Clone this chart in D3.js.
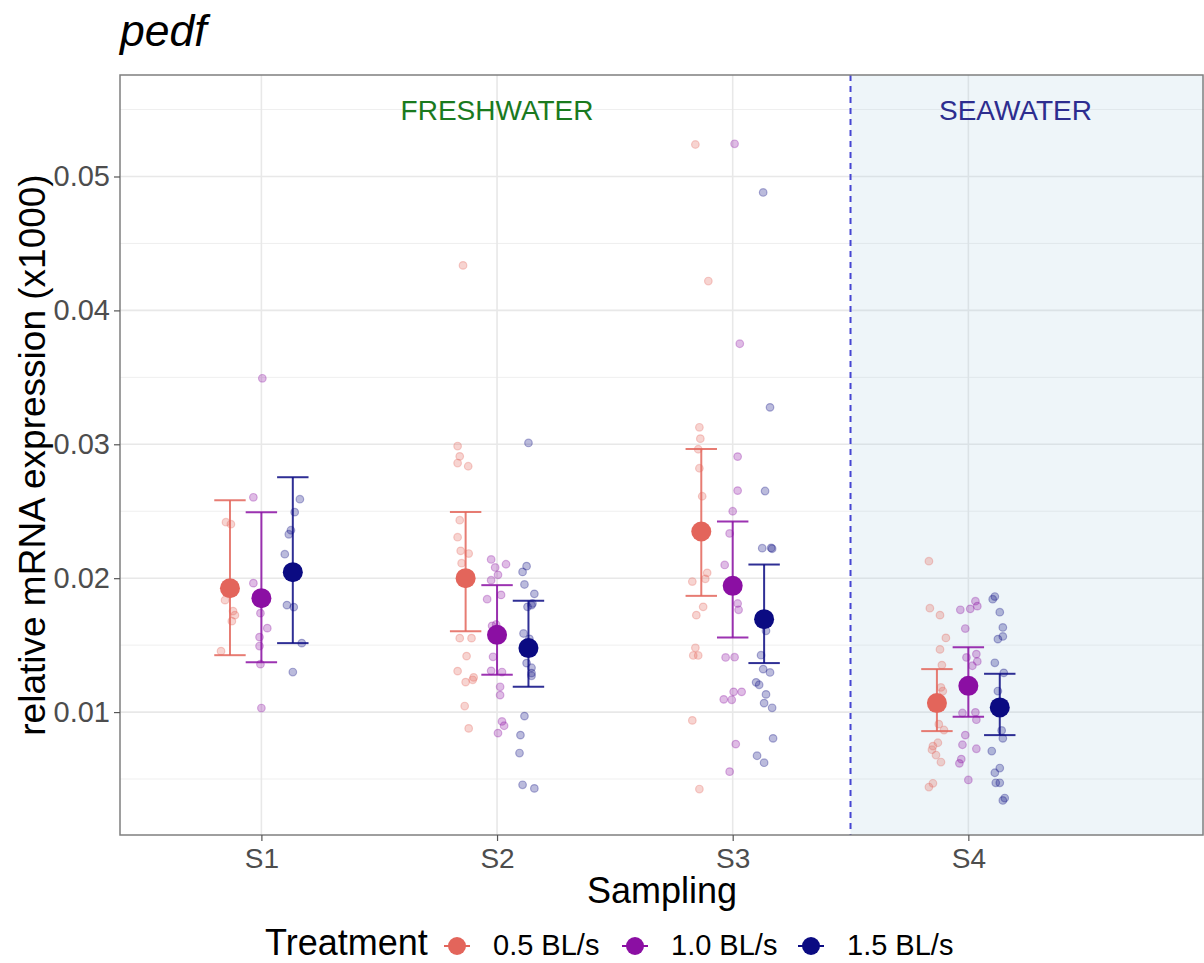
<!DOCTYPE html>
<html>
<head>
<meta charset="utf-8">
<script src="https://cdn.jsdelivr.net/npm/d3@7"></script>
<style>
  html, body { margin: 0; padding: 0; background: #fff; }
  svg { display: block; font-family: "Liberation Sans", Arial, Helvetica, sans-serif; }
</style>
</head>
<body>
<svg id="chart" width="1204" height="963"></svg>
<script>
// ---- data -------------------------------------------------------------
const samplings = ["S1", "S2", "S3", "S4"];
const treatments = ["0.5 BL/s", "1.0 BL/s", "1.5 BL/s"];
const yTicks = [0.01, 0.02, 0.03, 0.04, 0.05];

// group means and 95% CI per sampling (S1..S4)
const meanSlow = [0.01925, 0.0200, 0.02349, 0.01067];
const lowSlow  = [0.01425, 0.01604, 0.01868, 0.00858];
const highSlow = [0.02582, 0.02495, 0.02965, 0.01321];

const meanMid = [0.01851, 0.01577, 0.01943, 0.01196];
const lowMid  = [0.01373, 0.01279, 0.01557, 0.00965];
const highMid = [0.02493, 0.01948, 0.02423, 0.01485];

const meanFast = [0.02045, 0.01478, 0.01694, 0.01035];
const lowFast  = [0.01515, 0.01189, 0.01366, 0.00828];
const highFast = [0.02754, 0.01831, 0.02102, 0.01286];

// individual fish: [expression, jitter along x in sampling units]
const pointsSlow = [
  [[0.02418,-0.017],[0.02403,0.004],[0.01836,-0.021],[0.01754,0.013],[0.01724,0.021],[0.01679,0.008],[0.01455,-0.038]],
  [[0.04336,-0.011],[0.02987,-0.034],[0.0291,-0.025],[0.0286,-0.034],[0.02836,0.011],[0.02433,-0.025],[0.02306,-0.034],[0.02204,-0.021],[0.02184,0.013],[0.02112,-0.017],[0.01552,-0.025],[0.01552,0.025],[0.01418,0.004],[0.01306,-0.034],[0.01224,0],[0.01259,0.034],[0.01241,0.030],[0.01045,-0.004],[0.00878,0.013]],
  [[0.05239,-0.025],[0.04219,0.030],[0.03127,-0.008],[0.03042,-0.004],[0.02963,-0.013],[0.02821,-0.008],[0.02612,0.004],[0.0204,0.025],[0.01995,0.017],[0.01975,-0.038],[0.01786,0.008],[0.01724,-0.021],[0.0148,-0.025],[0.01423,-0.034],[0.01423,-0.013],[0.00938,-0.038],[0.00425,-0.008]],
  [[0.02127,-0.034],[0.01776,-0.030],[0.01724,0.013],[0.01554,0.038],[0.01468,0.013],[0.01351,0.021],[0.01184,0.017],[0.01157,0.025],[0.0091,0.008],[0.00866,0.030],[0.00771,0.004],[0.00746,-0.017],[0.00719,-0.021],[0.00679,-0.004],[0.00627,0.017],[0.00468,-0.017],[0.0044,-0.034]]
];
const pointsMid = [
  [[0.03493,0.004],[0.02604,-0.034],[0.01963,-0.034],[0.01739,-0.004],[0.01627,0.025],[0.0156,-0.008],[0.01493,-0.008],[0.01358,-0.004],[0.0103,0]],
  [[0.0214,-0.025],[0.0208,-0.008],[0.02104,0.038],[0.02025,0.004],[0.01985,-0.025],[0.01875,0.017],[0.01843,-0.042],[0.01654,-0.004],[0.01644,-0.021],[0.01413,-0.017],[0.01308,-0.025],[0.01299,0.021],[0.01189,0.013],[0.01127,0.013],[0.0093,0.021],[0.00898,0.030],[0.00843,0.004]],
  [[0.05244,0.008],[0.03751,0.030],[0.02908,0.021],[0.02654,0.021],[0.025,0],[0.02334,-0.013],[0.02099,-0.034],[0.01811,0.021],[0.01764,0.025],[0.01408,-0.030],[0.0141,0.008],[0.01151,0.004],[0.01151,0.038],[0.01095,-0.038],[0.01092,-0.004],[0.00761,0.013],[0.00555,-0.013]],
  [[0.01828,0.030],[0.01791,0.038],[0.01771,0.008],[0.01764,-0.034],[0.01624,-0.013],[0.01433,0.034],[0.01408,-0.008],[0.01378,0.038],[0.01346,0.017],[0.00993,-0.025],[0.00998,0.030],[0.00943,0.034],[0.00828,-0.013],[0.00756,-0.025],[0.00726,0.034],[0.00649,-0.030],[0.00617,-0.038],[0.00493,0]]
];
const pointsFast = [
  [[0.0259,0.030],[0.02493,0.008],[0.02358,-0.008],[0.02328,-0.017],[0.02179,-0.034],[0.01799,-0.025],[0.01784,0.004],[0.01515,0.038],[0.01299,0]],
  [[0.0301,0],[0.0209,-0.008],[0.02047,-0.025],[0.01953,-0.017],[0.01883,0.025],[0.01811,0.017],[0.01799,0.013],[0.01786,-0.004],[0.01587,-0.021],[0.01547,0.004],[0.01366,-0.008],[0.01331,0.013],[0.01291,0.013],[0.01271,0.013],[0.0097,-0.017],[0.00828,-0.034],[0.00694,-0.038],[0.00457,-0.025],[0.0043,0.025]],
  [[0.04881,-0.004],[0.03276,0.025],[0.02651,0.004],[0.02224,-0.008],[0.02226,0.030],[0.0222,0.034],[0.01607,0.008],[0.01425,-0.013],[0.01321,-0.004],[0.01296,0.025],[0.01222,-0.034],[0.01204,-0.021],[0.01132,0.008],[0.01067,0],[0.01032,0.034],[0.00804,0.038],[0.00674,-0.030],[0.00622,0]],
  [[0.01863,-0.021],[0.01843,-0.030],[0.01746,0],[0.01632,0.013],[0.01565,0.013],[0.01545,-0.008],[0.01368,-0.021],[0.01293,0.017],[0.01157,-0.008],[0.00863,0.008],[0.00804,0.013],[0.00709,-0.034],[0.00582,0],[0.00547,-0.021],[0.00472,-0.017],[0.00472,0],[0.00358,0.021],[0.0034,0.013]]
];

// habitat annotations
const habitatLabels = ["FRESHWATER", "SEAWATER"];
const habitatLabelX = [2, 4.2];
const habitatLabelY = 0.055;
const transferX = 3.5;   // freshwater -> seawater boundary

// ---- styling ------------------------------------------------------------
const colors = ["#E3655B", "#8B0FA3", "#0B0B82"];
const dodge = [-0.4 / 3, 0, 0.4 / 3];
const capHalf = 0.4 / 3 / 2;

const groups = treatments.map((t, i) => ({
  name: t,
  color: colors[i],
  offset: dodge[i],
  mean: [meanSlow, meanMid, meanFast][i],
  low: [lowSlow, lowMid, lowFast][i],
  high: [highSlow, highMid, highFast][i],
  points: [pointsSlow, pointsMid, pointsFast][i]
}));

// ---- layout -------------------------------------------------------------
const panel = { left: 120, right: 1204, top: 75, bottom: 835 };
const svg = d3.select("#chart");

const x = d3.scaleLinear().domain([0.4, 5.0]).range([panel.left, panel.right]);

// y range: data + annotation, expanded by 5% each side
const allVals = [];
groups.forEach(g => g.points.forEach(arr => arr.forEach(p => allVals.push(p[0]))));
allVals.push(habitatLabelY);
const [yMin, yMax] = d3.extent(allVals);
const pad = (yMax - yMin) * 0.05;
const y = d3.scaleLinear().domain([yMin - pad, yMax + pad]).range([panel.bottom, panel.top]);

svg.append("defs").append("clipPath").attr("id", "panelClip")
  .append("rect")
  .attr("x", panel.left).attr("y", panel.top)
  .attr("width", panel.right - panel.left).attr("height", panel.bottom - panel.top);

const plot = svg.append("g").attr("clip-path", "url(#panelClip)");

// grid
const minorTicks = d3.range(0.005, yMax + pad, 0.01);
plot.append("g").selectAll("line").data(minorTicks).join("line")
  .attr("x1", panel.left).attr("x2", panel.right)
  .attr("y1", d => y(d)).attr("y2", d => y(d))
  .attr("stroke", "#EFEFEF").attr("stroke-width", 1);
plot.append("g").selectAll("line").data(yTicks).join("line")
  .attr("x1", panel.left).attr("x2", panel.right)
  .attr("y1", d => y(d)).attr("y2", d => y(d))
  .attr("stroke", "#E8E8E8").attr("stroke-width", 1.6);
plot.append("g").selectAll("line").data(samplings).join("line")
  .attr("x1", (d, i) => x(i + 1)).attr("x2", (d, i) => x(i + 1))
  .attr("y1", panel.top).attr("y2", panel.bottom)
  .attr("stroke", "#E8E8E8").attr("stroke-width", 1.6);

// seawater shading
plot.append("rect")
  .attr("x", x(transferX)).attr("y", panel.top)
  .attr("width", panel.right - x(transferX)).attr("height", panel.bottom - panel.top)
  .attr("fill", "#A9CDE0").attr("fill-opacity", 0.2);

// transfer line
plot.append("line")
  .attr("x1", x(transferX)).attr("x2", x(transferX))
  .attr("y1", panel.top).attr("y2", panel.bottom)
  .attr("stroke", "#4646D2").attr("stroke-width", 2)
  .attr("stroke-dasharray", "6,5");

// habitat labels
plot.selectAll("text.habitat").data(habitatLabels).join("text")
  .attr("class", "habitat")
  .attr("x", (d, i) => x(habitatLabelX[i]))
  .attr("y", y(habitatLabelY))
  .attr("dy", "0.36em")
  .attr("text-anchor", "middle")
  .attr("font-size", 28)
  .attr("fill", (d, i) => i === 0 ? "#1A7A1E" : "#2D2D8F")
  .text(d => d);

// individual points
groups.forEach(g => {
  const pts = [];
  g.points.forEach((arr, si) => arr.forEach(p => pts.push({ s: si + 1, v: p[0], j: p[1] })));
  plot.append("g").selectAll("circle").data(pts).join("circle")
    .attr("cx", d => x(d.s + g.offset + d.j))
    .attr("cy", d => y(d.v))
    .attr("r", 3.8)
    .attr("fill", g.color).attr("fill-opacity", 0.28)
    .attr("stroke", g.color).attr("stroke-opacity", 0.3).attr("stroke-width", 1.2);
});

// error bars and means
groups.forEach(g => {
  const eg = plot.append("g")
    .attr("stroke", g.color).attr("stroke-width", 2).attr("stroke-opacity", 0.85)
    .attr("fill", "none");
  samplings.forEach((s, si) => {
    const cx = si + 1 + g.offset;
    eg.append("line")
      .attr("x1", x(cx)).attr("x2", x(cx))
      .attr("y1", y(g.low[si])).attr("y2", y(g.high[si]));
    [g.low[si], g.high[si]].forEach(v => {
      eg.append("line")
        .attr("x1", x(cx - capHalf)).attr("x2", x(cx + capHalf))
        .attr("y1", y(v)).attr("y2", y(v));
    });
  });
  plot.append("g").selectAll("circle").data(g.mean).join("circle")
    .attr("cx", (d, i) => x(i + 1 + g.offset))
    .attr("cy", d => y(d))
    .attr("r", 10)
    .attr("fill", g.color);
});

// panel border
svg.append("rect")
  .attr("x", panel.left).attr("y", panel.top)
  .attr("width", panel.right - panel.left - 1).attr("height", panel.bottom - panel.top)
  .attr("fill", "none").attr("stroke", "#7F7F7F").attr("stroke-width", 1.5);

// axes
const yAxis = svg.append("g")
  .attr("transform", `translate(${panel.left},0)`)
  .call(d3.axisLeft(y).tickValues(yTicks).tickFormat(d3.format(".2f")).tickSize(6).tickPadding(4));
yAxis.select(".domain").remove();
yAxis.selectAll(".tick line").attr("stroke", "#555").attr("stroke-width", 1.2);
yAxis.selectAll(".tick text").attr("font-size", 29).attr("fill", "#4D4D4D")
  .attr("font-family", "Liberation Sans, Arial, sans-serif");

const xAxis = svg.append("g")
  .attr("transform", `translate(0,${panel.bottom})`)
  .call(d3.axisBottom(x).tickValues([1, 2, 3, 4]).tickFormat((d, i) => samplings[i]).tickSize(6).tickPadding(7));
xAxis.select(".domain").remove();
xAxis.selectAll(".tick line").attr("stroke", "#555").attr("stroke-width", 1.2);
xAxis.selectAll(".tick text").attr("font-size", 28).attr("fill", "#4D4D4D")
  .attr("font-family", "Liberation Sans, Arial, sans-serif");

// titles
svg.append("text")
  .attr("x", panel.left).attr("y", 46)
  .attr("font-size", 44.5).attr("font-style", "italic").attr("fill", "#000")
  .text("pedf");

svg.append("text")
  .attr("x", (panel.left + panel.right) / 2).attr("y", 903)
  .attr("text-anchor", "middle").attr("font-size", 36).attr("fill", "#000")
  .text("Sampling");

svg.append("text")
  .attr("transform", `translate(45,${(panel.top + panel.bottom) / 2}) rotate(-90)`)
  .attr("text-anchor", "middle").attr("font-size", 37).attr("fill", "#000")
  .text("relative mRNA expression (x1000)");

// legend
const legend = svg.append("g");
legend.append("text")
  .attr("x", 265).attr("y", 955)
  .attr("font-size", 36).attr("fill", "#000")
  .text("Treatment");
const keyX = [457, 635, 811];
groups.forEach((g, i) => {
  const k = legend.append("g").attr("transform", `translate(${keyX[i]},946)`);
  k.append("line").attr("x1", -13).attr("x2", 13).attr("y1", 0).attr("y2", 0)
    .attr("stroke", g.color).attr("stroke-width", 2);
  k.append("circle").attr("r", 9).attr("fill", g.color);
  legend.append("text")
    .attr("x", keyX[i] + 36).attr("y", 955)
    .attr("font-size", 29).attr("fill", "#000")
    .text(g.name);
});
</script>
</body>
</html>
